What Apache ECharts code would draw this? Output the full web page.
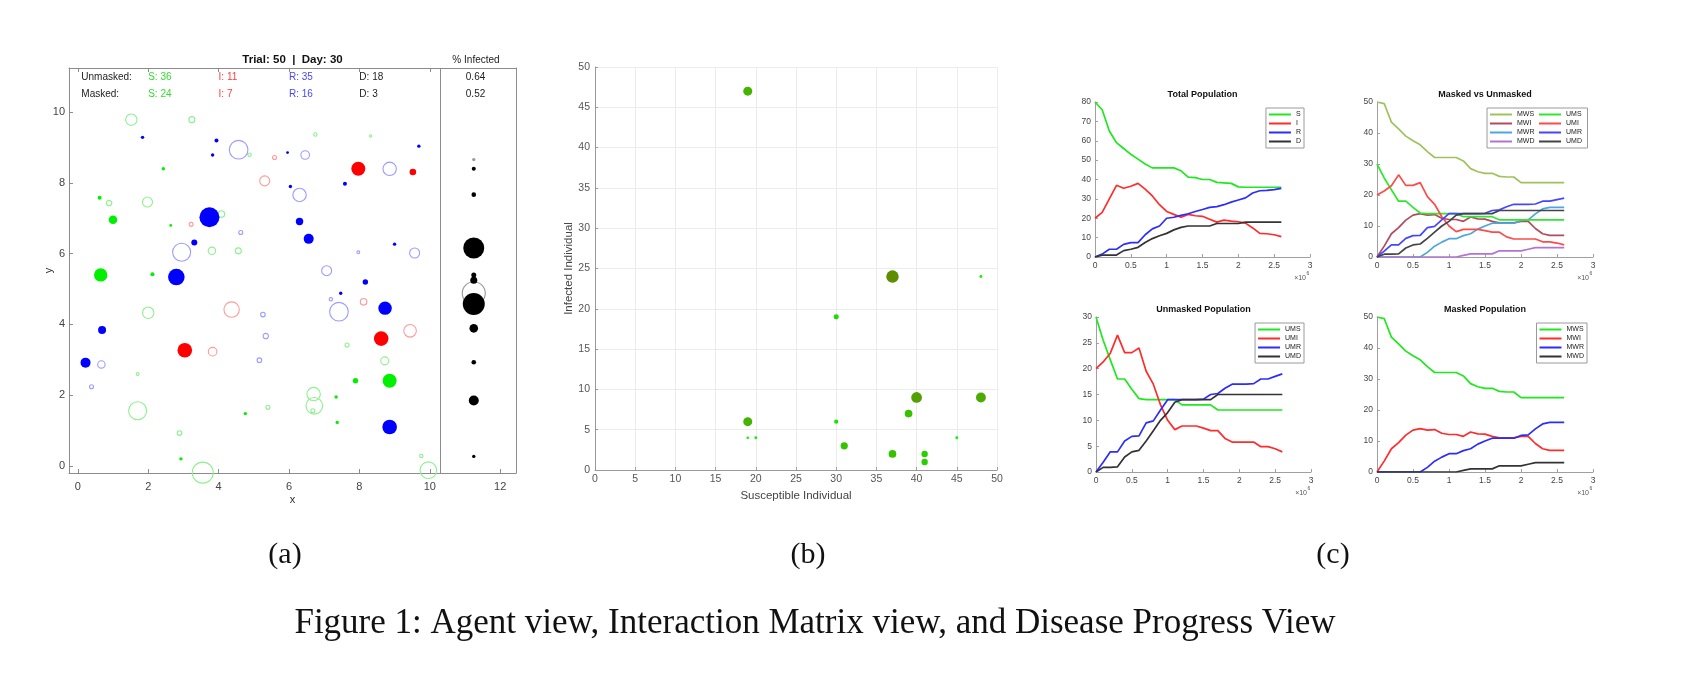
<!DOCTYPE html>
<html>
<head>
<meta charset="utf-8">
<script src="https://cdn.jsdelivr.net/npm/echarts@6.0.0/dist/echarts.min.js"></script>
<style>
  html, body { margin: 0; padding: 0; background: #fff; }
  #main { width: 1692px; height: 696px; }
</style>
</head>
<body>
<div id="main"></div>
<script>
// ---- (a) agent view ----
const trialNo = 50;
const dayNo = 30;
const groupLabels = ['Unmasked:', 'Masked:'];
const stateLabels = ['S', 'I', 'R', 'D'];
const unmaskedCounts = [36, 11, 35, 18];
const maskedCounts = [24, 7, 16, 3];
const pctInfected = [0.64, 0.52];
const ticksAx = [0, 2, 4, 6, 8, 10, 12];
const ticksAy = [0, 2, 4, 6, 8, 10];

// agents: [x, y, load]
const agentsUMS = [[2.43,8.4,1.7],[0.62,7.58,2],[1.0,6.96,4.3],[2.64,6.8,1.4],[0.65,5.4,6.7],[2.12,5.42,2],
  [2.93,0.2,1.7],[4.76,1.48,1.7],[8.86,2.41,7],[7.89,2.41,2.7],[7.34,1.95,1.7],[7.37,1.23,1.7]];
const agentsMWS = [[1.52,9.79,5.7],[3.24,9.79,3],[4.88,8.8,1.7],[6.75,9.37,1.7],[8.32,9.33,1.2],[0.89,7.43,2.7],
  [1.98,7.46,5],[4.08,7.12,3.3],[3.81,6.08,3.7],[4.56,6.08,3],[2.0,4.33,5.7],[1.7,2.6,1.4],[1.7,1.56,9],
  [2.89,0.93,2.3],[3.55,-0.19,10.5],[5.4,1.66,2],[6.7,2.03,6.7],[6.72,1.7,8.3],[6.68,1.56,2],[7.65,3.42,2],
  [8.72,2.97,4],[9.76,0.28,1.7],[9.96,-0.12,8.3]];
const agentsUMI = [[7.97,8.4,7],[9.52,8.31,3.3],[3.04,3.27,7.3],[8.62,3.6,7.3]];
const agentsMWI = [[5.59,8.72,2],[5.31,8.06,5],[3.22,6.83,2],[3.83,3.23,4.3],[4.37,4.42,7.7],[8.12,4.64,3.3],[9.44,3.82,6.3]];
const agentsUMR = [[1.84,9.29,1.7],[3.94,9.2,2],[3.83,8.79,1.7],[5.96,8.86,1.4],[9.69,9.04,1.7],[6.04,7.9,1.7],
  [7.59,7.98,2],[3.74,7.03,10],[3.31,6.32,3],[6.3,6.91,3.7],[6.56,6.42,5],[9.0,6.27,1.7],[2.8,5.34,8.3],
  [8.17,5.2,2.7],[0.69,3.84,4],[0.22,2.92,5],[7.47,4.88,1.7],[8.73,4.46,6.7],[8.86,1.1,7.3]];
const agentsMWR = [[4.57,8.94,9.3],[6.46,8.79,4.3],[6.3,7.66,6.7],[8.86,8.4,6.7],[4.63,6.6,2],[2.95,6.04,9],
  [7.97,6.04,1.4],[9.57,6.02,5],[7.07,5.52,5],[0.67,2.87,3.7],[0.39,2.24,2],[5.26,4.28,2.3],[5.34,3.67,2.7],
  [5.16,2.99,2.3],[7.19,4.71,1.7],[7.42,4.36,9.3]];
const deadFilled = [[11.25,8.4,2],[11.25,7.67,2.3],[11.25,6.16,10.5],[11.25,5.4,2.5],[11.25,5.25,3.5],
  [11.25,4.58,11],[11.25,3.89,4.3],[11.25,2.93,2.3],[11.25,1.85,5],[11.25,0.27,1.7]];
const deadHollow = [[11.25,4.88,11.5]];
const deadGray = [[11.25,8.66,1.7]];
const dividerX = 10.3;

// ---- (b) interaction matrix: [susceptible, infected, weight] ----
const interactions = [[19,47,8],[37,24,12],[30,19,3.5],[19,6,8],[19,4,0.8],[20,4,1],[30,6,2.5],[31,3,6],
  [37,2,6.5],[40,9,10],[39,7,6.5],[41,2,5],[41,1,5],[48,24,1],[48,9,9],[45,4,1]];

// ---- (c) disease progress (time in 1e6) ----
const timeM = [0,0.1,0.2,0.3,0.4,0.5,0.6,0.7,0.8,0.9,1.0,1.1,1.2,1.3,1.4,1.5,1.6,1.7,1.8,1.9,2.0,2.1,2.2,2.3,2.4,2.5,2.6];
const totS = [80,76,65,59,56,53,50.5,48,46,46,46,46,44.5,41.2,41,40,40,38.5,38.3,38,36.2,36,36,36,36,36,36];
const totI = [20,23,30,37,35.5,36.5,38,35,31.5,27,23.5,22,20.5,22,21.3,21,19.5,18,19,18.5,18.2,17.5,15,12.2,12,11.5,10.5];
const totR = [0,1.5,4,4,6.5,7.4,7.4,11.5,14.5,16,20,20.5,21.5,22.3,23.5,24.5,25.6,26,27,28.3,29.4,30.5,33,34.2,34.4,34.8,35.4];
const totD = [0,1,1,1,3.3,4,5,7.5,9.5,11,12.2,14,15.3,16,16,16,16,17.3,17.3,17.3,17.3,18,18,18,18,18,18];
const UMS = [30,25.5,21.7,18,18,16,14.2,14,14,14,14,14,13,13,13,13,13,12,12,12,12,12,12,12,12,12,12];
const UMI = [20,21.3,23,26.5,23.1,23.1,24,19.5,17,13,10,8.2,8.9,8.9,8.9,8.5,8,8,6.5,5.8,5.8,5.8,5.8,4.9,4.9,4.5,3.9];
const UMR = [0,1.9,3.9,3.9,6,6.9,7,9.5,9.9,12,14,14,14,14,14,14.1,15,15.2,16.2,17,17,17,17.1,18,18,18.5,19];
const UMD = [0,0.9,0.9,1,2.9,3.9,4.2,6,8,10,11.5,13.5,14,14,14,14,14,15,15,15,15,15,15,15,15,15,15];
const MWS = [50,49.5,43.5,41.3,39,37.5,36.2,34,32.1,32.1,32.1,32.1,31,28.5,27.5,27,27,26,25.8,25.8,24,24,24,24,24,24,24];
const MWI = [0,3.5,7.5,9.5,11.9,13.5,14,13.5,13.7,12.5,12.1,12.1,11.5,12.9,12.3,12.2,11.5,11,11,11,11.5,11.5,9.2,7.5,7,7,7];
const MWR = [0,0,0,0,0,0,0,1.5,3.5,4.8,5.9,5.9,6.9,7.5,9,10,10.9,10.9,10.9,10.9,11.8,12,13.9,15.5,16,16,16];
const MWD = [0,0,0,0,0,0,0,0,0,0,0,0,0.5,1,1,1,1,2,2,2,2,2.5,3,3,3,3,3];
const subplotTitles = ['Total Population', 'Masked vs Unmasked', 'Unmasked Population', 'Masked Population'];
const panelCaptions = ['(a)', '(b)', '(c)'];
const figureCaption = 'Figure 1: Agent view, Interaction Matrix view, and Disease Progress View';

const SANS = '"Liberation Sans", Arial, Helvetica, sans-serif';
const SERIF = '"Liberation Serif", "Times New Roman", serif';
const AXIS_GRAY = '#8c8c8c';

const gridA = { left: 69, top: 68, width: 447, height: 405 };
const gridB = { left: 595, top: 67, width: 402, height: 403 };
const gridsC = [
  { left: 1095, top: 102, width: 215, height: 155 },
  { left: 1377, top: 102, width: 216, height: 155 },
  { left: 1096, top: 317, width: 215, height: 155 },
  { left: 1377, top: 317, width: 216, height: 155 }
];
const yMaxC = [80, 50, 30, 50];
const yStepC = [10, 10, 5, 10];

const chart = echarts.init(document.getElementById('main'));

// ---- axes ----
const xAxes = [];
const yAxes = [];
// (a) bottom / top
xAxes.push({
  gridIndex: 0, type: 'value', min: -0.25, max: 12.45, position: 'bottom',
  name: 'x', nameLocation: 'middle', nameGap: 21, nameMoveOverlap: false,
  nameTextStyle: { fontSize: 11, color: '#333', fontFamily: SANS },
  axisLine: { onZero: false, lineStyle: { color: AXIS_GRAY } },
  axisTick: { inside: true, length: 4, customValues: ticksAx, lineStyle: { color: AXIS_GRAY } },
  axisLabel: { customValues: ticksAx, fontSize: 11, color: '#444', margin: 8, fontFamily: SANS },
  splitLine: { show: false }
});
xAxes.push({
  gridIndex: 0, type: 'value', min: -0.25, max: 12.45, position: 'top',
  axisLine: { onZero: false, lineStyle: { color: AXIS_GRAY } },
  axisTick: { inside: true, length: 4, customValues: ticksAx.slice(0, 6), lineStyle: { color: AXIS_GRAY } },
  axisLabel: { show: false }, splitLine: { show: false }
});
yAxes.push({
  gridIndex: 0, type: 'value', min: -0.2, max: 11.25, position: 'left',
  name: 'y', nameLocation: 'middle', nameGap: 15, nameRotate: 90, nameMoveOverlap: false,
  nameTextStyle: { fontSize: 11, color: '#333', fontFamily: SANS },
  axisLine: { onZero: false, lineStyle: { color: AXIS_GRAY } },
  axisTick: { inside: true, length: 4, customValues: ticksAy, lineStyle: { color: AXIS_GRAY } },
  axisLabel: { customValues: ticksAy, fontSize: 11, color: '#444', margin: 4, fontFamily: SANS },
  splitLine: { show: false }
});
yAxes.push({
  gridIndex: 0, type: 'value', min: -0.2, max: 11.25, position: 'right',
  axisLine: { onZero: false, lineStyle: { color: AXIS_GRAY } },
  axisTick: { show: false }, axisLabel: { show: false }, splitLine: { show: false }
});
// (b)
xAxes.push({
  gridIndex: 1, type: 'value', min: 0, max: 50, interval: 5,
  name: 'Susceptible Individual', nameLocation: 'middle', nameGap: 16,
  nameTextStyle: { fontSize: 11.5, color: '#444', fontFamily: SANS },
  axisLine: { onZero: false, lineStyle: { color: '#999' } },
  axisTick: { inside: true, length: 3, lineStyle: { color: '#999' } },
  axisLabel: { fontSize: 10.5, color: '#555', margin: 4, fontFamily: SANS },
  splitLine: { show: true, lineStyle: { color: '#ececec' } }
});
yAxes.push({
  gridIndex: 1, type: 'value', min: 0, max: 50, interval: 5,
  name: 'Infected Individual', nameLocation: 'middle', nameGap: 17, nameRotate: 90,
  nameTextStyle: { fontSize: 11.5, color: '#444', fontFamily: SANS },
  axisLine: { onZero: false, lineStyle: { color: '#999' } },
  axisTick: { inside: true, length: 3, lineStyle: { color: '#999' } },
  axisLabel: { fontSize: 10.5, color: '#555', margin: 5, fontFamily: SANS },
  splitLine: { show: true, lineStyle: { color: '#ececec' } }
});
// (c)
gridsC.forEach((g, k) => {
  xAxes.push({
    gridIndex: 2 + k, type: 'value', min: 0, max: 3, interval: 0.5,
    axisLine: { onZero: false, lineStyle: { color: '#a0a0a0' } },
    axisTick: { inside: true, length: 3, lineStyle: { color: '#a0a0a0' } },
    axisLabel: { fontSize: 8.5, color: '#444', margin: 4, fontFamily: SANS },
    splitLine: { show: false }
  });
  yAxes.push({
    gridIndex: 2 + k, type: 'value', min: 0, max: yMaxC[k], interval: yStepC[k],
    axisLine: { onZero: false, lineStyle: { color: '#a0a0a0' } },
    axisTick: { inside: true, length: 3, lineStyle: { color: '#a0a0a0' } },
    axisLabel: { fontSize: 8.5, color: '#444', margin: 4, fontFamily: SANS },
    splitLine: { show: false }
  });
});

// ---- series ----
const series = [];
function agentSeries(data, style, z) {
  return {
    type: 'scatter', xAxisIndex: 0, yAxisIndex: 0, data: data, symbol: 'circle',
    symbolSize: v => v[2] * 2, itemStyle: Object.assign({ opacity: 1 }, style),
    silent: true, z: z, clip: false
  };
}
const hollow = c => ({ color: 'rgba(0,0,0,0)', borderColor: c, borderWidth: 1.1 });
series.push(agentSeries(agentsMWS, hollow('#8ef08e'), 2));
series.push(agentSeries(agentsUMS, { color: '#00f000' }, 3));
series.push(agentSeries(agentsMWI, hollow('#ff9a9a'), 2));
series.push(agentSeries(agentsUMI, { color: '#ff0000' }, 3));
series.push(agentSeries(agentsMWR, hollow('#9c9cff'), 2));
series.push(agentSeries(agentsUMR, { color: '#0000ff' }, 3));
series.push(agentSeries(deadHollow, hollow('#9a9a9a'), 2));
series.push(agentSeries(deadGray, { color: '#9a9a9a' }, 2));
const deadS = agentSeries(deadFilled, { color: '#000' }, 3);
deadS.markLine = {
  silent: true, symbol: 'none', label: { show: false }, animation: false,
  lineStyle: { color: AXIS_GRAY, width: 1, type: 'solid' }, data: [{ xAxis: dividerX }]
};
series.push(deadS);

// header counts drawn in data coords of panel (a)
const textItems = [];
const rowY = [11.0, 10.5];
const stateX = [2, 4, 6, 8];
const stateColors = ['#2fdc2f', '#ff3c3c', '#4646ff', '#222'];
[unmaskedCounts, maskedCounts].forEach((counts, r) => {
  textItems.push({ x: 0.1, y: rowY[r], text: groupLabels[r], color: '#222', align: 'left' });
  counts.forEach((c, i) => {
    textItems.push({ x: stateX[i], y: rowY[r], text: stateLabels[i] + ': ' + c, color: stateColors[i], align: 'left' });
  });
  textItems.push({ x: 11.3, y: rowY[r], text: pctInfected[r].toFixed(2), color: '#222', align: 'center' });
});
series.push({
  type: 'custom', xAxisIndex: 0, yAxisIndex: 0, silent: true, z: 6,
  data: textItems.map(t => [t.x, t.y]),
  renderItem: function (params, api) {
    const it = textItems[params.dataIndex];
    const p = api.coord([api.value(0), api.value(1)]);
    return {
      type: 'text', x: p[0], y: p[1],
      style: { text: it.text, fill: it.color, align: it.align, verticalAlign: 'middle', font: '10px ' + SANS }
    };
  }
});

// (b)
const idxB = series.length;
series.push({
  type: 'scatter', xAxisIndex: 2, yAxisIndex: 2, data: interactions, symbol: 'circle',
  itemStyle: { opacity: 1 }, silent: true, z: 3
});

// (c)
function lineSeries(name, arr, color, k) {
  return {
    type: 'line', name: name, xAxisIndex: 3 + k, yAxisIndex: 3 + k,
    data: timeM.map((t, i) => [t, arr[i]]), symbol: 'none', showSymbol: false, silent: true,
    lineStyle: { color: color, width: 1.7 }, itemStyle: { color: color }, z: 3
  };
}
const cG = '#1fe81f', cR = '#ff2c2c', cB = '#2c2cff', cK = '#333';
series.push(lineSeries('S', totS, cG, 0), lineSeries('I', totI, cR, 0),
            lineSeries('R', totR, cB, 0), lineSeries('D', totD, cK, 0));
series.push(lineSeries('MWS ', MWS, '#9fc25c', 1), lineSeries('MWI ', MWI, '#b44a5c', 1),
            lineSeries('MWR ', MWR, '#4da6dc', 1), lineSeries('MWD ', MWD, '#b373d3', 1),
            lineSeries('UMS ', UMS, '#2ee82e', 1), lineSeries('UMI ', UMI, '#ff4a4a', 1),
            lineSeries('UMR ', UMR, '#4646ff', 1), lineSeries('UMD ', UMD, '#444', 1));
series.push(lineSeries('UMS', UMS, cG, 2), lineSeries('UMI', UMI, cR, 2),
            lineSeries('UMR', UMR, cB, 2), lineSeries('UMD', UMD, cK, 2));
series.push(lineSeries('MWS', MWS, cG, 3), lineSeries('MWI', MWI, cR, 3),
            lineSeries('MWR', MWR, cB, 3), lineSeries('MWD', MWD, cK, 3));

// ---- legends ----
function legend(names, pos, bordered, padding) {
  return Object.assign({
    data: names, orient: 'vertical', icon: 'rect', itemWidth: 22, itemHeight: 2, itemGap: 0,
    selectedMode: false, padding: padding || [2, 3, 2, 3],
    borderColor: bordered ? '#9a9a9a' : 'transparent', borderWidth: bordered ? 1 : 0,
    backgroundColor: bordered ? '#fff' : 'transparent',
    formatter: n => n.trim(),
    textStyle: { fontSize: 7, lineHeight: 9, color: '#222', fontFamily: SANS }
  }, pos);
}
const legends = [
  legend(['S', 'I', 'R', 'D'], { right: 388, top: 108 }, true),
  legend(['MWS ', 'MWI ', 'MWR ', 'MWD '], { left: 1487, top: 108 }, true, [2, 53, 2, 3]),
  legend(['UMS ', 'UMI ', 'UMR ', 'UMD '], { left: 1539, top: 108 }, false, [2, 0, 2, 0]),
  legend(['UMS', 'UMI', 'UMR', 'UMD'], { right: 388, top: 323 }, true),
  legend(['MWS', 'MWI', 'MWR', 'MWD'], { right: 105, top: 323 }, true)
];

// ---- titles ----
const titles = [
  {
    text: 'Trial: ' + trialNo + '  |  Day: ' + dayNo, left: gridA.left + gridA.width / 2, top: 54,
    textAlign: 'center', padding: 0,
    textStyle: { fontSize: 11.5, fontWeight: 'bold', color: '#111', fontFamily: SANS }
  },
  {
    text: '% Infected', left: 476, top: 55, textAlign: 'center', padding: 0,
    textStyle: { fontSize: 10, fontWeight: 'normal', color: '#222', fontFamily: SANS }
  }
];
gridsC.forEach((g, k) => {
  titles.push({
    text: subplotTitles[k], left: g.left + g.width / 2, top: g.top - 12, textAlign: 'center', padding: 0,
    textStyle: { fontSize: 9, fontWeight: 'bold', color: '#111', fontFamily: SANS }
  });
});

// ---- graphic texts ----
const graphic = [];
gridsC.forEach(g => {
  const xr = g.left + g.width, yb = g.top + g.height;
  graphic.push({ type: 'text', x: xr - 4, y: yb + 21, style: { text: '×10', font: '7px ' + SANS, fill: '#555', align: 'right', verticalAlign: 'middle' } });
  graphic.push({ type: 'text', x: xr - 3.5, y: yb + 17, style: { text: '6', font: '5px ' + SANS, fill: '#555', align: 'left', verticalAlign: 'middle' } });
});
const captionX = [285, 808, 1333];
panelCaptions.forEach((c, i) => {
  graphic.push({ type: 'text', x: captionX[i], y: 555, style: { text: c, font: '30px ' + SERIF, fill: '#111', align: 'center', verticalAlign: 'middle' } });
});
graphic.push({ type: 'text', x: 815, y: 624, style: { text: figureCaption, font: '35px ' + SERIF, fill: '#111', align: 'center', verticalAlign: 'middle' } });

chart.setOption({
  backgroundColor: '#fff',
  animation: false,
  title: titles,
  legend: legends,
  grid: [gridA, gridB].concat(gridsC).map(g => Object.assign({ containLabel: false }, g)),
  xAxis: xAxes,
  yAxis: yAxes,
  visualMap: [{
    type: 'continuous', show: false, seriesIndex: idxB, dimension: 2, min: 0, max: 12,
    inRange: { color: ['#00ff00', '#22d600', '#45b400', '#5e8e00'], symbolSize: [2, 12.5] }
  }],
  series: series,
  graphic: graphic
});
</script>
</body>
</html>
